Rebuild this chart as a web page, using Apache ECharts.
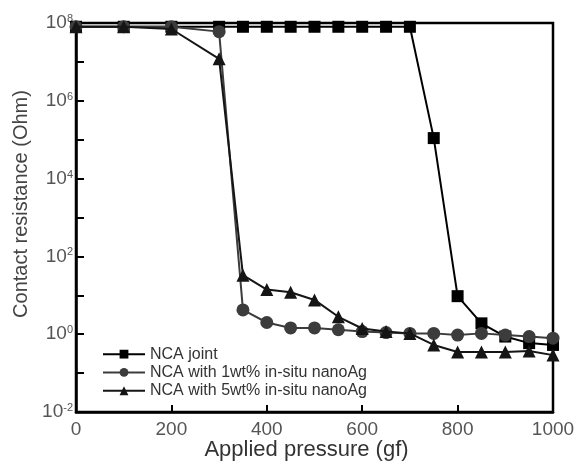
<!DOCTYPE html>
<html>
<head>
<meta charset="utf-8">
<script src="https://cdn.jsdelivr.net/npm/echarts@6/dist/echarts.min.js"></script>
<style>
html,body{margin:0;padding:0;background:#fff;}
#chart{width:575px;height:462px;}
</style>
</head>
<body>
<div id="chart"></div>
<script>
const pressure = [0,100,200,300,350,400,450,500,550,600,650,700,750,800,850,900,950,1000];
const ncaJoint = [8e7,8e7,8e7,8e7,8e7,8e7,8e7,8e7,8e7,8e7,8e7,8e7,1.1e5,9.5,1.9,0.87,0.59,0.53];
const nca1wt = [8e7,8e7,8e7,6e7,4.2,2.0,1.45,1.45,1.3,1.17,1.1,1.05,1.05,0.95,1.05,0.95,0.87,0.79];
const nca5wt = [8e7,8e7,7e7,1.2e7,33,14,12,7.6,2.8,1.4,1.17,1.05,0.53,0.35,0.35,0.35,0.37,0.29];
const seriesNames = ['NCA joint','NCA with 1wt% in-situ nanoAg','NCA with 5wt% in-situ nanoAg'];
const xTicks = [0,200,400,600,800,1000];

function pairs(ys){ return pressure.map((x,i)=>[x, ys[i]]); }

const chart = echarts.init(document.getElementById('chart'), null, {renderer:'canvas'});
const font = 'Arial, "Liberation Sans", sans-serif';
chart.setOption({
  animation:false,
  backgroundColor:'#fff',
  grid:{left:76,right:22,top:23,bottom:50,show:true,borderColor:'#000',borderWidth:2.5,
        backgroundColor:'transparent',containLabel:false,outerBoundsMode:'none'},
  legend:{
    orient:'vertical', left:97, top:341,
    itemWidth:42, itemHeight:11, itemGap:2,
    textStyle:{fontFamily:font,fontSize:16,color:'#333',lineHeight:16.3},
    data:seriesNames
  },
  xAxis:{
    type:'value', min:0, max:1000, interval:200,
    name:'Applied pressure (gf)', nameLocation:'middle', nameGap:27, nameMoveOverlap:false,
    nameTextStyle:{fontFamily:font,fontSize:22,color:'#333',padding:[0,16,0,0]},
    axisLine:{lineStyle:{color:'#000',width:2.5}},
    axisTick:{inside:true,length:7,lineStyle:{color:'#000',width:2}},
    axisLabel:{fontFamily:font,fontSize:19,color:'#555',margin:8,
      formatter:v=> xTicks.indexOf(v)>=0 ? String(v) : ''},
    splitLine:{show:false}
  },
  yAxis:{
    type:'log', logBase:10, min:0.01, max:1e8, interval:1,
    name:'Contact resistance (Ohm)', nameLocation:'middle', nameGap:45, nameRotate:90, nameMoveOverlap:false,
    nameTextStyle:{fontFamily:font,fontSize:20,color:'#444',padding:[0,0,0,27]},
    axisLine:{lineStyle:{color:'#000',width:2.5}},
    axisTick:{inside:true,length:8,lineStyle:{color:'#000',width:2}},
    axisLabel:{fontFamily:font,fontSize:19,color:'#555',margin:3,
      formatter:function(v){
        const e = Math.round(Math.log10(v));
        if (e % 2 !== 0) return '';
        return '10{sup|' + e + '}';
      },
      rich:{sup:{fontFamily:font,fontSize:11,color:'#555',verticalAlign:'top',padding:[0,0,8,0]}}
    },
    splitLine:{show:false},
    minorTick:{show:false}
  },
  series:[
    {name:seriesNames[0], type:'line', data:pairs(ncaJoint), symbol:'rect', symbolSize:12,
     itemStyle:{color:'#000'}, lineStyle:{color:'#000',width:2}, z:2},
    {name:seriesNames[1], type:'line', data:pairs(nca1wt), symbol:'circle', symbolSize:13,
     itemStyle:{color:'#3c3c3c'}, lineStyle:{color:'#3c3c3c',width:2}, z:3},
    {name:seriesNames[2], type:'line', data:pairs(nca5wt), symbol:'triangle', symbolSize:13,
     itemStyle:{color:'#151515'}, lineStyle:{color:'#151515',width:2}, z:4}
  ]
});
</script>
</body>
</html>
